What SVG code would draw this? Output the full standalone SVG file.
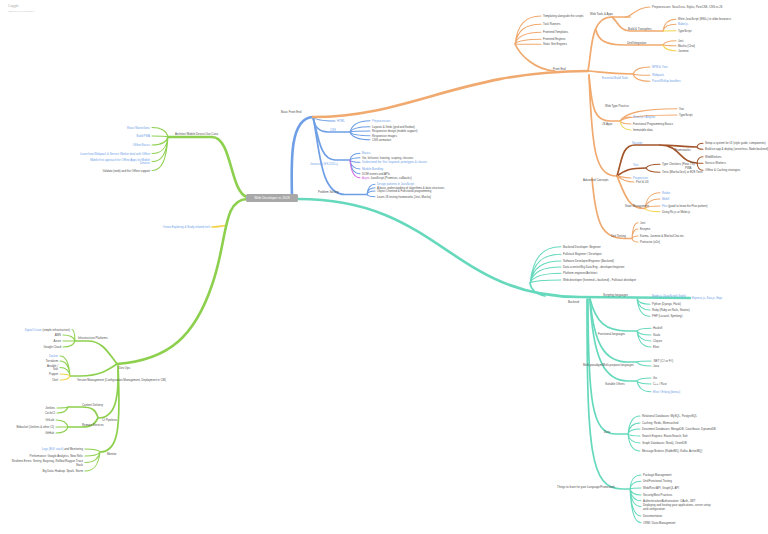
<svg xmlns="http://www.w3.org/2000/svg" width="768" height="534" viewBox="0 0 768 534">
<style>
.c{fill:none;stroke-linecap:round}
.g{stroke:#8dd04e}.y{stroke:#f2d44e}.bl{stroke:#6e9ee6}.o{stroke:#f0a96e}.br{stroke:#a3552a}.te{stroke:#66d9bd}.pu{stroke:#d16be0}
.w1{stroke-width:2.6}.w2{stroke-width:1.7}.w3{stroke-width:1.05}
text{font-family:"Liberation Sans",Arial,sans-serif;font-size:2.85px;fill:#4d4d4d}
.b{fill:#6b9de8}.p{fill:#c65ad8}.e{text-anchor:end}
.ttl{font-size:3.4px;fill:#b0b0b0}.sub{font-size:2.4px;fill:#c0c0c0}
</style>
<rect width="768" height="534" fill="#ffffff"/>
<g id="title">
<text class="ttl" x="8" y="7">Coggle</text>
<text class="sub" x="8" y="12">made for free at coggle.it</text>
</g>
<g id="connectors">
<!-- blue -->
<path class="c bl w1" d="M292 197C291 160 290 118 313 117"/>
<path class="c bl w3" d="M313 117C315.2 119.8 321.8 121 335 121"/>
<path class="c bl w2" d="M313 117C314.5 127.5 319 132 328 132L350 132"/>
<path class="c bl w3" d="M350 132C352 124.1 358 120.7 370 120.7M350 132C352 128.3 358 126.7 370 126.7M350 132C352 131.3 358 131 370 131M350 132C352 134.6 358 135.7 370 135.7M350 132C352 137.4 358 139.7 370 139.7"/>
<path class="c bl w2" d="M313 117C318 135 320 160 335 160L350 160"/>
<path class="c bl w3" d="M350 160C351 155.3 354 153.3 360 153.3M350 160C351 158.4 354 157.7 360 157.7M350 160C351 161.6 354 162.3 360 162.3M350 160C351 166.3 354 169 360 169M350 160C351 169.6 354 173.7 360 173.7"/>
<path class="c pu w3" d="M350 160C351 172.4 354 177.7 360 177.7"/>
<path class="c bl w2" d="M313 117C320 150 320 194.5 345 194.5L367 194.5"/>
<path class="c bl w3" d="M367 194.5C367.8 187.4 370.2 184.3 375 184.3M367 194.5C367.8 189.7 370.2 187.7 375 187.7M367 194.5C367.8 192 370.2 191 375 191M367 194.5C367.8 196 370.2 196.7 375 196.7"/>
<!-- orange -->
<path class="c o w1" d="M313 117C410 117 460 71 588 71"/>
<path class="c o w2" d="M555 71C535 70 520 55 515 44"/>
<path class="c o w3" d="M515 44C517.6 24.4 525.4 16 541 16M515 44C517.6 30.2 525.4 24.3 541 24.3M515 44C517.6 35.8 525.4 32.3 541 32.3M515 44C517.6 40.7 525.4 39.3 541 39.3M515 44C517.6 44.2 525.4 44.3 541 44.3"/>
<path class="c o w2" d="M588 71C592 50 590 17 612 17L630 17"/>
<path class="c o w3" d="M625 17C632 17 636 7 650 7"/>
<path class="c o w2" d="M612 17C618 22 620 31 630 31L663 31"/>
<path class="c o w3" d="M663 31C664.3 22.8 668.2 19.3 676 19.3M663 31C664.3 26.3 668.2 24.3 676 24.3"/>
<path class="c y w3" d="M663 31C664.3 30.8 668.2 30.7 676 30.7"/>
<path class="c o w2" d="M596 30C598 40 605 45 625 45L663 45"/>
<path class="c o w3" d="M663 45C664.3 42 668.2 40.7 676 40.7M663 45C664.3 45.5 668.2 45.7 676 45.7"/>
<path class="c y w3" d="M663 45C664.3 49 668.2 50.7 676 50.7"/>
<path class="c o w2" d="M588 71C600 72 610 74 633 74"/>
<path class="c o w3" d="M633 74C634.7 69.1 639.8 67 650 67M633 74C634.7 74.9 639.8 75.3 650 75.3M633 74C634.7 79.1 639.8 81.3 650 81.3"/>
<path class="c o w2" d="M589 75C592 110 595 121 610 121L620 121"/>
<path class="c o w3" d="M620 121C621.1 118.2 624.4 117 631 117M620 121C621.1 123.1 624.4 124 631 124M620 121C625.7 112.4 642.8 108.7 677 108.7M620 121C625.7 116.8 642.8 115 677 115"/>
<path class="c y w3" d="M620 121C621.1 127.3 624.4 130 631 130"/>
<path class="c o w2" d="M589 75C592 150 595 176 617 176"/>
<path class="c br w2" d="M617 176C622 160 622 145 635 145L660 145"/>
<path class="c br w2" d="M660 145C675 145 680 147 697 147M660 145C680 145 680 163 697 163"/>
<path class="c br w3" d="M697 147C697.6 144.4 699.4 143.3 703 143.3M697 147C697.6 148.6 699.4 149.3 703 149.3M697 163C697.6 158.6 699.4 156.7 703 156.7M697 163C697.6 163.2 699.4 163.3 703 163.3M697 163C697.6 168.1 699.4 170.3 703 170.3"/>
<path class="c br w2" d="M617 176C625 170 630 168 646 168"/>
<path class="c br w3" d="M646 168C647.4 165.4 651.6 164.3 660 164.3M646 168C647.4 171 651.6 172.3 660 172.3"/>
<path class="c o w3" d="M617 176C622 177 625 178 631 178M617 176C622 180 626 182 634 182"/>
<path class="c o w2" d="M617 176C625 195 628 208.5 645 208.5"/>
<path class="c o w3" d="M645 208.5C646.5 197.4 651 192.7 660 192.7M645 208.5C646.5 201.9 651 199 660 199M645 208.5C646.5 206.8 651 206 660 206"/>
<path class="c y w3" d="M645 208.5C646.5 210.7 651 211.7 660 211.7"/>
<path class="c o w2" d="M592 178C596 225 602 238.5 625 238.5L632 238.5"/>
<path class="c o w3" d="M632 238.5C632.6 227.4 634.4 222.7 638 222.7M632 238.5C632.6 231.9 634.4 229 638 229M632 238.5C632.6 236.8 634.4 236 638 236M632 238.5C632.6 241 634.4 242 638 242"/>
<!-- teal -->
<path class="c te w1" d="M298 199C440 199 450 297 580 297L690 298"/>
<path class="c te w2" d="M545 296C535 294 531 290 530 283"/>
<path class="c te w3" d="M530 283C533.1 257.6 542.4 246.7 561 246.7M530 283C533.1 262.9 542.4 254.3 561 254.3M530 283C533.1 267.6 542.4 261 561 261M530 283C533.1 271.8 542.4 267 561 267M530 283C533.1 276.2 542.4 273.3 561 273.3M530 283C533.1 280.9 542.4 280 561 280"/>
<path class="c te w3" d="M637 298.5C638.3 302.6 642.2 304.3 650 304.3M637 298.5C638.3 306.5 642.2 310 650 310M637 298.5C638.3 311 642.2 316.3 650 316.3"/>
<path class="c te w2" d="M590 299C596 322 605 331 628 331L637 331"/>
<path class="c te w3" d="M637 331C638.4 329.1 642.6 328.3 651 328.3M637 331C638.4 333.8 642.6 335 651 335M637 331C638.4 338 642.6 341 651 341M637 331C638.4 342.2 642.6 347 651 347"/>
<path class="c te w2" d="M590 299C594 345 605 362 628 362L637 362"/>
<path class="c te w3" d="M637 362C638.4 361.3 642.6 361 651 361M637 362C638.4 364.8 642.6 366 651 366"/>
<path class="c te w2" d="M590 299C593 360 605 381 628 381L637 381"/>
<path class="c te w3" d="M637 381C638.4 378.9 642.6 378 651 378M637 381C638.4 383.1 642.6 384 651 384M637 381C638.4 388.5 642.6 391.7 651 391.7"/>
<path class="c te w2" d="M588 299C588 400 592 434 615 434L628 434"/>
<path class="c te w3" d="M628 434C629.2 421.4 632.8 416 640 416M628 434C629.2 426.3 632.8 423 640 423M628 434C629.2 430.5 632.8 429 640 429M628 434C629.2 435.4 632.8 436 640 436M628 434C629.2 440.3 632.8 443 640 443M628 434C629.2 445.9 632.8 451 640 451"/>
<path class="c te w2" d="M587 299C587 450 590 489 622 489L630 489"/>
<path class="c te w3" d="M630 489C631.1 478.9 634.4 475 641 475M630 489C631.1 483.3 634.4 481.3 641 481.3M630 489C631.1 488.5 634.4 488 641 488M630 489C631.1 492.9 634.4 495 641 495M630 489C631.1 496.9 634.4 500.7 641 500.7M630 489C631.1 500.8 634.4 506.5 641 506.5M630 489C631.1 507.6 634.4 516 641 516M630 489C631.1 512.3 634.4 522.7 641 522.7"/>
<!-- green -->
<path class="c g w1" d="M247 197C230 192 232 137 212 137L168 137"/>
<path class="c g w3" d="M168 137C166.4 130.4 161.6 127.5 152 127.5M168 137C166.4 136.3 161.6 136 152 136M168 137C166.4 142.6 161.6 145 152 145M168 137C166.4 148.6 161.6 153.5 152 153.5M168 137C166.4 154.2 161.6 161.5 152 161.5M168 137C166.4 160.5 161.6 170.5 152 170.5"/>
<path class="c y w2" d="M212 227C218 227 221 226 226 225.5"/>
<path class="c g w1" d="M247 199C222 200 228 240 212 285C195 335 170 360 117 364"/>
<path class="c g w2" d="M117 364C108 352 102 341 88 341L75 341"/>
<path class="c g w3" d="M75 341C74.7 333 73.8 329.5 72 329.5M75 341C73.8 336.8 70.2 335 63 335M75 341L63 341M75 341C73.8 345.2 70.2 347 63 347"/>
<path class="c g w2" d="M117 364C108 370 100 376 80 376L70 376"/>
<path class="c g w3" d="M70 376C69 362 66 356 60 356M70 376C69 365.5 66 361 60 361M70 376C69 370 66 367.5 60 367.5"/>
<path class="c y w3" d="M70 376C69 374.6 66 374 60 374M70 376C69 378.8 66 380 60 380"/>
<path class="c g w2" d="M118 366C119 400 115 418 98 418"/>
<path class="c g w2" d="M98 418C96 410 92 407 82 407L68 407M98 418C95 424 92 427 82 427L68 427"/>
<path class="c g w3" d="M68 407C66.9 407.7 63.6 408 57 408M68 407C66.9 411.2 63.6 413 57 413M68 427C66.8 422.1 63.2 420 56 420M68 427L56 427M68 427C66.8 431.2 63.2 433 56 433"/>
<path class="c g w2" d="M118 366C121 430 118 452 100 452"/>
<path class="c g w3" d="M100 452C98.5 449.9 94 449 85 449M100 452C98.5 454.8 94 456 85 456M100 452C98.5 459.4 94 462.5 85 462.5M100 452C98.5 465.3 94 471 85 471"/>
</g>
<g id="center">
<rect x="246" y="194" width="52" height="8" rx="1.5" fill="#a8a8a8"/>
<text x="272" y="199.3" text-anchor="middle" style="fill:#fff;font-size:3.4px">Web Developer in 2018</text>
</g>
<g id="basic-front-end">
<text x="281" y="113">Basic Front End</text>
<text class="b" x="337" y="122">HTML</text>
<text class="b" x="330" y="131">CSS</text>
<text class="b" x="372" y="121.7">Preprocessors</text>
<text x="372" y="127.7">Layouts &amp; Grids (grid and flexbox)</text>
<text x="372" y="132">Responsive design (mobile support)</text>
<text x="372" y="136.7">Responsive images</text>
<text x="372" y="140.7">CSS animation</text>
<text class="b" x="310" y="164.5">Javascript (ES 2015+)</text>
<text class="b" x="362" y="154.3">Basics</text>
<text x="362" y="158.7">Var, let/const, hoisting, scoping, closures</text>
<text class="b" x="362" y="163.3">Understand the 'this' keyword, prototypes &amp; classes</text>
<text class="b" x="362" y="170">Module Bundling</text>
<text x="362" y="174.7">DOM events and APIs</text>
<text x="362" y="178.7"><tspan class="p">Async</tspan> JavaScript (Promises, callbacks)</text>
<text x="318" y="193">Problem Solving</text>
<text class="b" x="377" y="185.3">Design patterns in JavaScript</text>
<text x="377" y="188.7">A basic understanding of algorithms &amp; data structures</text>
<text x="377" y="192">Object-Oriented &amp; Functional programming</text>
<text x="377" y="197.7">Learn JS testing frameworks (Jest, Mocha)</text>
</g>
<g id="front-end">
<text x="553" y="69.5">Front End</text>
<text x="543" y="17">Templating alongside the scripts</text>
<text x="543" y="25.3">Task Runners</text>
<text x="543" y="33.3">Frontend Templates</text>
<text x="543" y="40.3">Frontend Engines</text>
<text x="543" y="45.3">Static Site Engines</text>
<text x="590" y="15">Web Tools &amp; Apps</text>
<text x="652" y="8">Preprocessors: Sass/Less, Stylus, PostCSS, CSS-in-JS</text>
<text x="628" y="29.8">Build &amp; Transpilers</text>
<text x="678" y="20.3">Write JavaScript (ES6+) in older browsers</text>
<text class="b" x="678" y="25.3">Babel.js</text>
<text x="678" y="31.7">TypeScript</text>
<text x="627" y="43.8">Unit/Integration</text>
<text x="678" y="41.7">Jest</text>
<text x="678" y="46.7">Mocha (Chai)</text>
<text x="678" y="51.7">Jasmine</text>
<text class="b" x="602" y="79">Essential Build Tools</text>
<text class="b" x="652" y="68">NPM &amp; Yarn</text>
<text class="b" x="652" y="76.3">Webpack</text>
<text class="b" x="652" y="82.3">Parcel/Rollup bundlers</text>
<text x="605" y="107">Web Type Practice</text>
<text x="602" y="124.7">JS Apps</text>
<text x="679" y="109.7">Vue</text>
<text x="679" y="116">TypeScript</text>
<text class="b" x="633" y="118">React.js / Angular</text>
<text x="633" y="125">Functional Programming Basics</text>
<text x="633" y="131">Immutable data</text>
<text x="583" y="180.5">Advanced Concepts</text>
<text class="b" x="632" y="143.5">Security</text>
<text x="675" y="151">Frameworks</text>
<text x="705" y="144.3">Setup a system for UI (style guide, components)</text>
<text x="705" y="150.3">Build an app &amp; deploy (serverless, Node backend)</text>
<text x="685" y="168.5">PWA</text>
<text x="705" y="157.7">WebWorkers</text>
<text x="705" y="164.3">Service Workers</text>
<text x="705" y="171.3">Offline &amp; Caching strategies</text>
<text class="b" x="633" y="165.5">Test</text>
<text x="662" y="165.3">Type Checkers (Flow, TS)</text>
<text x="662" y="173.3">Tests (Mocha/Jest) or E2E Tests</text>
<text class="b" x="633" y="179">Progressive</text>
<text x="636" y="183">Perf &amp; UX</text>
<text x="625" y="207">State Management</text>
<text class="b" x="662" y="193.7">Redux</text>
<text class="b" x="662" y="200">MobX</text>
<text x="662" y="207"><tspan class="b">Flux</tspan> (good to know the Flux pattern)</text>
<text x="662" y="212.7">Using Rx.js or Mobx.js</text>
<text x="611" y="237.3">Unit Testing</text>
<text x="640" y="223.7">Jest</text>
<text x="640" y="230">Enzyme</text>
<text x="640" y="237">Karma, Jasmine &amp; Mocha/Chai etc.</text>
<text x="640" y="243">Protractor (e2e)</text>
</g>
<g id="backend">
<text x="568" y="303">Backend</text>
<text x="563" y="247.7">Backend Developer: Beginner</text>
<text x="563" y="255.3">Fullstack Beginner / Developer</text>
<text x="563" y="262">Software Developer/Engineer (Backend)</text>
<text x="563" y="268">Data scientist/Big Data Eng - developer/engineer</text>
<text x="563" y="274.3">Platform engineer/Architect</text>
<text x="563" y="281">Web developer (frontend + backend) - Fullstack developer</text>
<text x="603" y="295.8">Scripting languages</text>
<text class="b" x="652" y="296.5">Node.js (JavaScript) (high)</text>
<text class="b" x="692" y="298.8">Express.js, Koa.js, Hapi</text>
<text x="652" y="305.3">Python (Django, Flask)</text>
<text x="652" y="311">Ruby (Ruby on Rails, Sinatra)</text>
<text x="652" y="317.3">PHP (Laravel, Symfony)</text>
<text x="598" y="334.5">Functional languages</text>
<text x="653" y="329.3">Haskell</text>
<text x="653" y="336">Scala</text>
<text x="653" y="342">Clojure</text>
<text x="653" y="348">Elixir</text>
<text x="583" y="366">Multi-paradigm/Multi-purpose languages</text>
<text x="653" y="362">.NET (C# or F#)</text>
<text x="653" y="367">Java</text>
<text x="605" y="384.5">Suitable Others</text>
<text x="653" y="379">Go</text>
<text x="653" y="385">C++ / Rust</text>
<text class="b" x="653" y="392.7">Elixir / Erlang (bonus)</text>
<text x="604" y="432.5">Data</text>
<text x="642" y="417">Relational Databases: MySQL, PostgreSQL</text>
<text x="642" y="424">Caching: Redis, Memcached</text>
<text x="642" y="430">Document Databases: MongoDB, Couchbase, DynamoDB</text>
<text x="642" y="437">Search Engines: ElasticSearch, Solr</text>
<text x="642" y="444">Graph Databases: Neo4j, OrientDB</text>
<text x="642" y="452">Message Brokers (RabbitMQ, Kafka, ActiveMQ)</text>
<text x="557" y="487.5">Things to learn for your Language/Framework</text>
<text x="643" y="476">Package Management</text>
<text x="643" y="482.3">Unit/Functional Testing</text>
<text x="643" y="489">Web/Rest API, GraphQL API</text>
<text x="643" y="496">Security/Best Practices</text>
<text x="643" y="501.7">Authentication/Authorization: OAuth, JWT</text>
<text x="643" y="506.3">Deploying and hosting your applications, server setup</text>
<text x="643" y="509.8">and configuration</text>
<text x="643" y="517">Documentation</text>
<text x="643" y="523.7">ORM / Data Management</text>
</g>
<g id="mobile">
<text x="175" y="135.3">Architect Mobile Device Use Case</text>
<text class="b e" x="150" y="128.5">React Native/Ionic</text>
<text class="b e" x="150" y="137">Build PWA</text>
<text class="b e" x="150" y="146">Offline Basics</text>
<text class="b e" x="150" y="154.5">Learn how Webpack &amp; Service Worker deal with Offline</text>
<text class="b e" x="150" y="160.5">Mobile first approach for Offline Apps for Mobile</text>
<text class="b e" x="150" y="164">Devices</text>
<text class="e" x="150" y="171.5">Validate (web) and the Offline support</text>
</g>
<g id="explore">
<text class="b e" x="210" y="228">I know Exploring &amp; Study related tech</text>
</g>
<g id="devops">
<text x="119" y="368.5">Dev Ops</text>
<text x="78" y="339.3">Infrastructure Platforms</text>
<text class="e" x="70" y="330.5"><tspan class="b">Digital Ocean</tspan> (simple infrastructure)</text>
<text class="e" x="61" y="336">AWS</text>
<text class="e" x="61" y="342">Azure</text>
<text class="e" x="61" y="348">Google Cloud</text>
<text x="77" y="380.5">Version Management (Configuration Management, Deployment in CM)</text>
<text class="b e" x="58" y="357">Docker</text>
<text class="e" x="58" y="362">Terraform</text>
<text class="e" x="58" y="366.5">Ansible /</text>
<text class="e" x="58" y="370">Salt</text>
<text class="e" x="58" y="375">Puppet</text>
<text class="e" x="58" y="381">Chef</text>
<text x="102" y="421">CI Pipelines</text>
<text x="82" y="405.5">Content Delivery</text>
<text class="e" x="55" y="409">Jenkins</text>
<text class="e" x="55" y="414">CircleCI</text>
<text x="82" y="425.8">Remote Services</text>
<text class="e" x="54" y="421">GitLab</text>
<text class="e" x="54" y="428">Bitbucket (Jenkins &amp; other CI)</text>
<text class="e" x="54" y="434">GitHub</text>
<text x="107" y="455">Monitor</text>
<text class="e" x="83" y="450"><tspan class="b">Logs (ELK stack)</tspan> and Monitoring</text>
<text class="e" x="83" y="457">Performance: Google Analytics, New Relic</text>
<text class="e" x="83" y="462">Realtime Errors: Sentry, Bugsnag, Rollbar/Raygun Trace</text>
<text class="e" x="83" y="465.5">Stack</text>
<text class="e" x="83" y="472">Big Data: Hadoop, Spark, Storm</text>
</g>
</svg>
